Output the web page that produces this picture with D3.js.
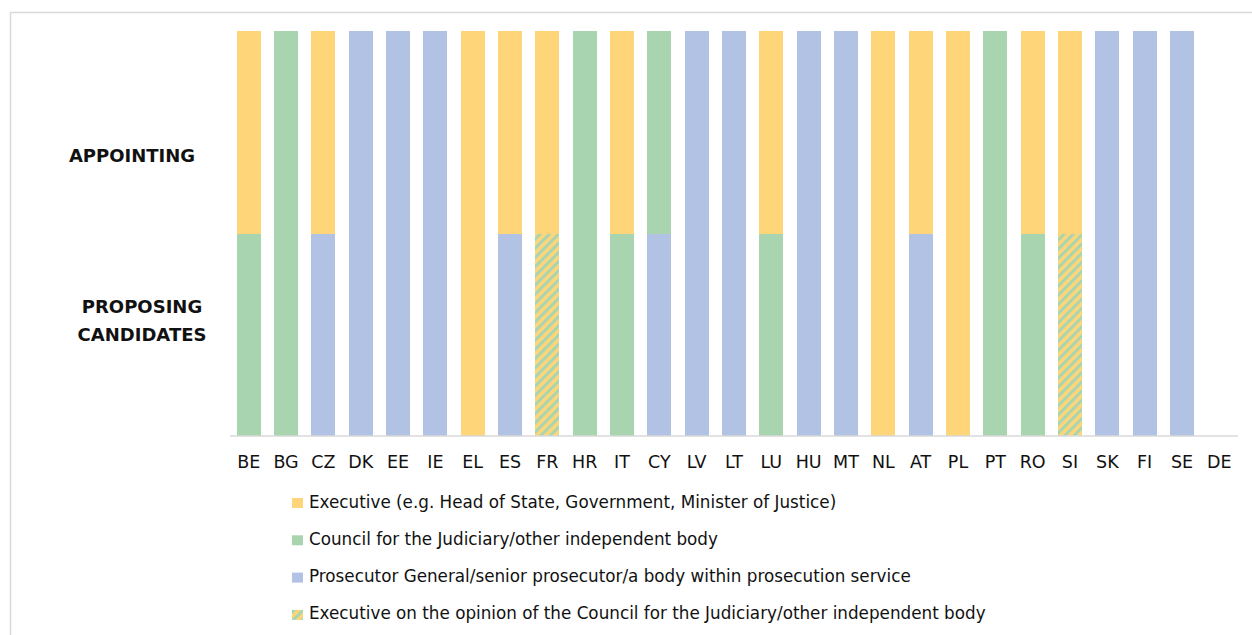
<!DOCTYPE html>
<html>
<head>
<meta charset="utf-8">
<script src="https://cdn.jsdelivr.net/npm/d3@7"></script>
<style>
  html, body { margin: 0; padding: 0; background: #fff; }
  svg { display: block; }
  text { font-family: "DejaVu Sans", "Noto Sans", sans-serif; fill: #111; }
</style>
</head>
<body>
<svg id="chart" width="1252" height="635"></svg>
<script>
// ---- data ----
const countries = ["BE","BG","CZ","DK","EE","IE","EL","ES","FR","HR","IT","CY","LV","LT","LU","HU","MT","NL","AT","PL","PT","RO","SI","SK","FI","SE","DE"];
// codes: E = Executive, C = Council, P = Prosecutor, H = Executive on opinion of Council, null = none
const proposing  = ["C","C","P","P","P","P","E","P","H","C","C","P","P","P","C","P","P","E","P","E","C","C","H","P","P","P",null];
const appointing = ["E","C","E","P","P","P","E","E","E","C","E","C","P","P","E","P","P","E","E","E","C","E","E","P","P","P",null];
const stages = ["PROPOSING CANDIDATES", "APPOINTING"];
const legendKeys = ["E","C","P","H"];
const legendLabels = [
  "Executive (e.g. Head of State, Government, Minister of Justice)",
  "Council for the Judiciary/other independent body",
  "Prosecutor General/senior prosecutor/a body within prosecution service",
  "Executive on the opinion of the Council for the Judiciary/other independent body"
];

// ---- setup ----
const svg = d3.select("#chart");
const W = 1252, H = 635;
const colors = { E: "#FFD57A", C: "#A8D5B0", P: "#B1C2E4" };

const defs = svg.append("defs");
const pat = defs.append("pattern")
  .attr("id", "hatch")
  .attr("patternUnits", "userSpaceOnUse")
  .attr("width", 6.5).attr("height", 6.5)
  .attr("patternTransform", "rotate(45)");
pat.append("rect").attr("width", 6.5).attr("height", 6.5).attr("fill", colors.E);
pat.append("rect").attr("x", 0).attr("width", 3).attr("height", 6.5).attr("fill", colors.C);

function fillFor(k) { return k === "H" ? "url(#hatch)" : colors[k]; }

// frame (top & left)
svg.append("line").attr("x1", 10).attr("y1", 12.5).attr("x2", W).attr("y2", 12.5)
  .attr("stroke", "#d9d9d9").attr("stroke-width", 1.5);
svg.append("line").attr("x1", 10.5).attr("y1", 12).attr("x2", 10.5).attr("y2", H)
  .attr("stroke", "#d9d9d9").attr("stroke-width", 1.5);

const x = d3.scaleBand().domain(countries).range([230, 1238]).paddingInner(0.35).paddingOuter(0.175);
const y = d3.scaleLinear().domain([0, 2]).range([436, 31]);

// build stacked rows
const rows = countries.map((c, i) => ({ country: c, p: proposing[i], a: appointing[i] }));
const segs = [];
rows.forEach(r => {
  if (r.p) segs.push({ country: r.country, k: r.p, y0: 0, y1: 1 });
  if (r.a) segs.push({ country: r.country, k: r.a, y0: 1, y1: 2 });
});

svg.append("g").attr("shape-rendering", "crispEdges").selectAll("rect").data(segs).join("rect")
  .attr("x", d => x(d.country))
  .attr("width", x.bandwidth())
  .attr("y", d => y(d.y1))
  .attr("height", d => y(d.y0) - y(d.y1))
  .attr("fill", d => fillFor(d.k));

// x axis
const xAxis = svg.append("g").attr("transform", "translate(0,436)")
  .call(d3.axisBottom(x).tickSize(0).tickPadding(20));
xAxis.select(".domain").attr("stroke", "#d9d9d9").attr("stroke-width", 1.5)
  .attr("d", "M" + x.range()[0] + ",0H" + x.range()[1]);
xAxis.selectAll("text").style("font-size", "17.5px").style("font-family", "\"DejaVu Sans\", sans-serif").attr("fill", "#111");

// stage labels
svg.append("text").attr("x", 132).attr("y", 162).attr("text-anchor", "middle")
  .style("font-size", "18px").style("font-weight", "bold").text(stages[1]);
const pl = svg.append("text").attr("x", 142).attr("text-anchor", "middle")
  .style("font-size", "18px").style("font-weight", "bold");
pl.append("tspan").attr("x", 142).attr("y", 313).text("PROPOSING");
pl.append("tspan").attr("x", 142).attr("y", 341).text("CANDIDATES");

// legend
const lg = svg.append("g").selectAll("g").data(legendKeys).join("g")
  .attr("transform", (d, i) => `translate(292,${498 + i * 37.3})`);
lg.append("rect").attr("width", 11).attr("height", 10).attr("fill", d => fillFor(d));
lg.append("text").attr("x", 17).attr("y", 9.5).style("font-size", "16.8px")
  .text((d, i) => legendLabels[i]);
</script>
</body>
</html>
